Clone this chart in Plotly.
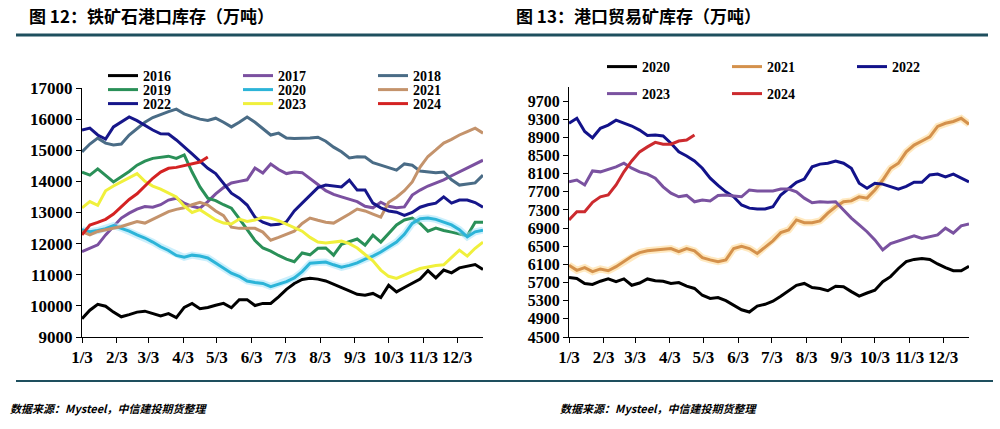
import plotly.graph_objects as go
import pandas as pd

# ---------------- data ----------------
WEEKS = pd.date_range("2001-01-03", periods=52, freq="7D")
TICK_DATES = ["2001-01-03", "2001-02-03", "2001-03-03", "2001-04-03", "2001-05-03", "2001-06-03",
              "2001-07-03", "2001-08-03", "2001-09-03", "2001-10-03", "2001-11-03", "2001-12-03"]
TICK_LABELS = ["1/3", "2/3", "3/3", "4/3", "5/3", "6/3", "7/3", "8/3", "9/3", "10/3", "11/3", "12/3"]

L2016 = [9590, 9860, 10050, 9990, 9800, 9650, 9720, 9800, 9830, 9750, 9680, 9750, 9620, 9950, 10080, 9910,
         9950, 10020, 10080, 9940, 10200, 10200, 10010, 10080, 10080, 10290, 10530, 10720, 10850, 10890, 10860,
         10800, 10700, 10590, 10480, 10370, 10340, 10400, 10270, 10660, 10450, 10590, 10720, 10860, 11130, 10900,
         11150, 11060, 11220, 11280, 11330, 11170]
L2017 = [11740, 11850, 11960, 12280, 12550, 12820, 12980, 13110, 13190, 13170, 13250, 13400, 13460, 13300, 13200,
         13140, 13350, 13600, 13800, 13950, 14000, 14050, 14430, 14270, 14560, 14380, 14250, 14300, 14280, 14100,
         13900, 13700, 13580, 13500, 13420, 13350, 13200, 13150, 13330, 13200, 13150, 13180, 13560, 13720, 13850,
         13950, 14050, 14180, 14300, 14430, 14550, 14680]
L2018 = [14950, 15200, 15390, 15230, 15170, 15200, 15490, 15700, 15900, 16050, 16150, 16240, 16320, 16170, 16080,
         16000, 15960, 16030, 15900, 15750, 15900, 16070, 15900, 15700, 15490, 15550, 15390, 15380, 15380, 15390,
         15420, 15290, 15100, 14950, 14750, 14790, 14780, 14600, 14520, 14430, 14360, 14560, 14520, 14330, 14300,
         14280, 14300, 14050, 13880, 13920, 13950, 14200]
L2019 = [14300, 14200, 14400, 14200, 13980, 14150, 14320, 14520, 14650, 14740, 14780, 14810, 14740, 14850, 14300,
         13820, 13460, 13380, 13250, 13140, 12800, 12450, 12100, 11860, 11760, 11620, 11500, 11420, 11700, 11640,
         11850, 11860, 11630, 11980, 12060, 12150, 11950, 12270, 12050, 12330, 12600, 12760, 12820, 12650, 12400,
         12500, 12420, 12370, 12300, 12250, 12690, 12690]
L2020 = [12450, 12380, 12420, 12480, 12580, 12500, 12400, 12280, 12180, 12050, 11900, 11780, 11620, 11560, 11630,
         11600, 11540, 11380, 11210, 11050, 10950, 10800, 10750, 10720, 10620, 10700, 10780, 10900, 11100, 11370,
         11400, 11410, 11320, 11240, 11300, 11380, 11500, 11600, 11730, 11880, 12050, 12300, 12650, 12800, 12820,
         12780, 12700, 12600, 12450, 12220, 12380, 12430]
L2021 = [12390, 12280, 12390, 12440, 12500, 12550, 12630, 12710, 12660, 12790, 12920, 13030, 13100, 13150, 13250,
         13330, 13240, 13050, 12900, 12530, 12490, 12500, 12490, 12370, 12110, 12200, 12300, 12400, 12650, 12820,
         12750, 12690, 12660, 12800, 12950, 13110, 13050, 12950, 12850, 13330, 13490, 13700, 13980, 14460, 14800,
         15010, 15230, 15350, 15490, 15600, 15710, 15550]
L2022 = [15650, 15710, 15490, 15360, 15750, 15900, 16070, 15950, 15800, 15650, 15530, 15520, 15330, 15120, 14880,
         14650, 14420, 14250, 13950, 13620, 13460, 13240, 12850, 12690, 12600, 12620, 12700, 13050, 13300, 13560,
         13800, 13880, 13850, 13820, 14040, 13720, 13720, 13300, 13150, 13050, 13010, 12910, 13000, 13170, 13250,
         13300, 13500, 13300, 13400, 13400, 13320, 13170]
L2023 = [13150, 13350, 13230, 13700, 13850, 13980, 14100, 14250, 14000, 13850, 13750, 13620, 13500, 13200, 13000,
         13090, 12920, 12760, 12660, 12630, 12790, 12710, 12760, 12850, 12820, 12740, 12630, 12520, 12400, 12200,
         12050, 12020, 12050, 12080, 12000, 11860, 11650, 11450, 11150, 10950, 10880, 11000, 11100, 11200, 11260,
         11300, 11320, 11550, 11790, 11600, 11850, 12050]
L2024 = [12280, 12600, 12680, 12780, 12950, 13200, 13420, 13600, 13850, 14100, 14300, 14420, 14450, 14500, 14550,
         14620, 14780]

R2020 = [5810, 5790, 5680, 5660, 5730, 5780, 5720, 5780, 5640, 5690, 5780, 5740, 5730, 5680, 5700, 5620, 5570,
         5420, 5350, 5370, 5300, 5200, 5100, 5050, 5180, 5220, 5290, 5400, 5520, 5640, 5680, 5590, 5570, 5520,
         5620, 5610, 5500, 5400, 5470, 5530, 5720, 5830, 6010, 6160, 6210, 6230, 6210, 6110, 6030, 5960, 5960, 6060]
R2021 = [6080, 5970, 6030, 5940, 6000, 5960, 6050, 6160, 6280, 6360, 6400, 6420, 6430, 6450, 6380, 6450, 6400,
         6250, 6200, 6160, 6200, 6450, 6500, 6450, 6340, 6490, 6620, 6800, 6860, 7080, 7020, 7020, 7060, 7230,
         7370, 7480, 7500, 7590, 7560, 7740, 7960, 8220, 8330, 8580, 8730, 8820, 8910, 9140, 9210, 9250, 9320, 9190]
R2022 = [9210, 9320, 9030, 8890, 9100, 9170, 9280, 9220, 9150, 9060, 8940, 8950, 8930, 8770, 8580, 8490, 8380,
         8220, 8000, 7840, 7700, 7590, 7410, 7340, 7320, 7320, 7370, 7630, 7780, 7910, 7980, 8250, 8310, 8330,
         8380, 8330, 8220, 7890, 7780, 7890, 7870, 7820, 7760, 7820, 7910, 7910, 8070, 8090, 8030, 8090, 8000, 7920]
R2023 = [7920, 7960, 7850, 8160, 8140, 8200, 8250, 8330, 8220, 8140, 8090, 8000, 7810, 7670, 7590, 7620, 7480,
         7520, 7500, 7620, 7630, 7610, 7590, 7740, 7720, 7720, 7720, 7760, 7760, 7700, 7560, 7460, 7480, 7470,
         7480, 7300, 7120, 6970, 6820, 6640, 6420, 6560, 6620, 6670, 6730, 6670, 6710, 6750, 6900, 6790, 6950, 6990]
R2024 = [7080, 7260, 7260, 7470, 7590, 7630, 7850, 8140, 8380, 8580, 8690, 8790, 8750, 8750, 8820, 8840, 8950]

LEFT_Y_TICKS = [9000, 10000, 11000, 12000, 13000, 14000, 15000, 16000, 17000]
RIGHT_Y_TICKS = [4500, 4900, 5300, 5700, 6100, 6500, 6900, 7300, 7700, 8100, 8500, 8900, 9300, 9700]

# ---------------- styling ----------------
LEFT_SERIES = [
    ("2016", L2016, "#000000", "legend"),
    ("2017", L2017, "#7B50A0", "legend"),
    ("2018", L2018, "#4A6C86", "legend"),
    ("2019", L2019, "#2A9058", "legend2"),
    ("2020", L2020, "#2CB4D8", "legend2"),
    ("2021", L2021, "#C4936C", "legend2"),
    ("2022", L2022, "#16168A", "legend3"),
    ("2023", L2023, "#F0F03C", "legend3"),
    ("2024", L2024, "#D42222", "legend3"),
]
RIGHT_SERIES = [
    ("2020", R2020, "#000000", "legend4"),
    ("2021", R2021, "#D4914C", "legend4"),
    ("2022", R2022, "#12128A", "legend4"),
    ("2023", R2023, "#7A52A0", "legend5"),
    ("2024", R2024, "#CC2A2E", "legend5"),
]
HALO = {("L", "2020"): "rgba(160,225,250,0.55)", ("R", "2021"): "rgba(255,215,140,0.55)"}

SERIF = "Liberation Serif"
CJK = "Noto Sans CJK SC"

fig = go.Figure()


def add_series(series, side, xa, ya):
    for name, vals, color, leg in series:
        if (side, name) in HALO:
            fig.add_trace(go.Scatter(x=WEEKS[:len(vals)], y=vals, mode="lines", xaxis=xa, yaxis=ya,
                                     line=dict(color=HALO[(side, name)], width=7), showlegend=False,
                                     hoverinfo="skip"))
        fig.add_trace(go.Scatter(x=WEEKS[:len(vals)], y=vals, mode="lines", name=name, xaxis=xa, yaxis=ya,
                                 line=dict(color=color, width=3), legend=leg))


add_series(LEFT_SERIES, "L", "x", "y")
add_series(RIGHT_SERIES, "R", "x2", "y2")

W, H = 1000, 429


def px_x(p):
    return p / W


def px_y(p):
    return 1 - p / H


legend_common = dict(orientation="h", xanchor="left", yanchor="middle", bgcolor="rgba(0,0,0,0)",
                     font=dict(family=SERIF, size=14, color="#000", weight="bold"),
                     itemwidth=30, tracegroupgap=0)

fig.update_layout(
    width=W, height=H, margin=dict(l=0, r=0, t=0, b=0, pad=0, autoexpand=False),
    paper_bgcolor="white", plot_bgcolor="white", showlegend=True,
    legend=dict(x=px_x(103), y=px_y(76), entrywidth=90, **legend_common),
    legend2=dict(x=px_x(103), y=px_y(90), entrywidth=90, **legend_common),
    legend3=dict(x=px_x(103), y=px_y(104), entrywidth=90, **legend_common),
    legend4=dict(x=px_x(602), y=px_y(67), entrywidth=80, **legend_common),
    legend5=dict(x=px_x(602), y=px_y(94), entrywidth=80, **legend_common),
)

axis_common = dict(showline=True, linecolor="#000", linewidth=1, ticks="outside", ticklen=5,
                   tickcolor="#000", showgrid=False, zeroline=False, automargin=False)

fig.update_layout(
    xaxis=dict(domain=[px_x(82), px_x(483)], anchor="y", type="date",
               range=["2001-01-03", "2001-12-26"], tickvals=TICK_DATES, ticktext=TICK_LABELS,
               tickfont=dict(family=SERIF, size=17, color="#000", weight="bold"), **axis_common),
    yaxis=dict(domain=[px_y(337), px_y(88)], anchor="x", range=[9000, 17000], tickvals=LEFT_Y_TICKS,
               tickformat="d", tickfont=dict(family=SERIF, size=17, color="#000", weight="bold"), **axis_common),
    xaxis2=dict(domain=[px_x(569), px_x(969)], anchor="y2", type="date",
                range=["2001-01-03", "2001-12-26"], tickvals=TICK_DATES, ticktext=TICK_LABELS,
                tickfont=dict(family=SERIF, size=17, color="#000", weight="bold"), **axis_common),
    yaxis2=dict(domain=[px_y(337), px_y(87)], anchor="x2", range=[4500, 10010], tickvals=RIGHT_Y_TICKS,
                tickformat="d", tickfont=dict(family=SERIF, size=16, color="#000", weight="bold"), **axis_common),
)

# titles, rules and source notes
TEAL = "#1E4F5E"
fig.add_shape(type="line", xref="paper", yref="paper", x0=px_x(16), x1=px_x(988), y0=px_y(35), y1=px_y(35),
              line=dict(color=TEAL, width=3))
fig.add_shape(type="line", xref="paper", yref="paper", x0=px_x(16), x1=px_x(993), y0=px_y(381), y1=px_y(381),
              line=dict(color=TEAL, width=2))

for x, txt in [(27, "图 12：铁矿石港口库存（万吨）"), (514, "图 13：港口贸易矿库存（万吨）")]:
    fig.add_annotation(xref="paper", yref="paper", x=px_x(x), y=px_y(15), xanchor="left", yanchor="middle",
                       text=txt, showarrow=False,
                       font=dict(family=CJK, size=17, color="#000", weight="bold"))

for x in [8, 558]:
    fig.add_annotation(xref="paper", yref="paper", x=px_x(x), y=px_y(408), xanchor="left", yanchor="middle",
                       text="数据来源：Mysteel，中信建投期货整理", showarrow=False,
                       font=dict(family=CJK, size=11, color="#000", weight="bold", style="italic"))

fig.write_html("out.html", config={"displayModeBar": False},
               post_script="document.body.style.margin='0px';")
